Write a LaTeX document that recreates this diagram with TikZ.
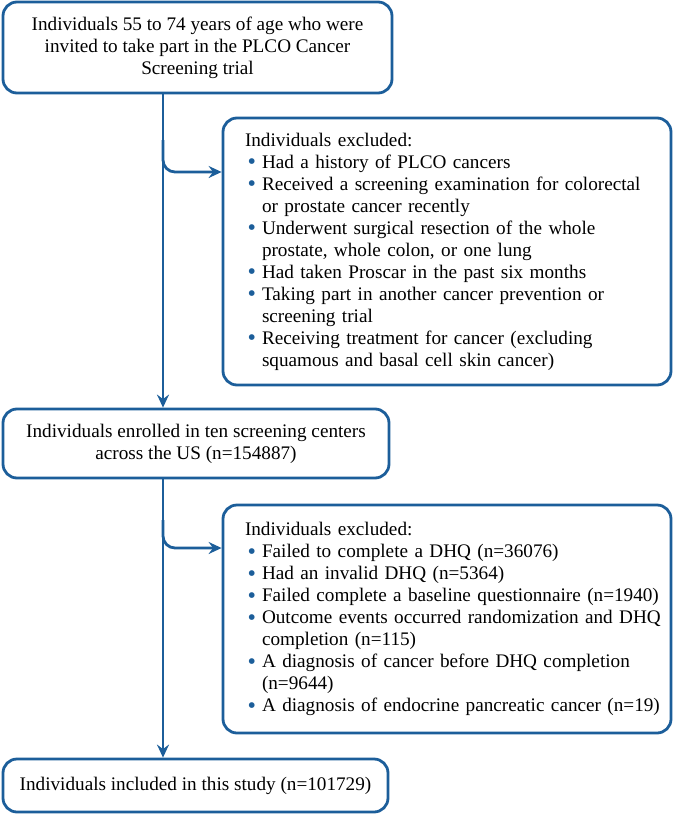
\documentclass[tikz,border=0pt]{standalone}
\usepackage{fontspec}
\setmainfont{Liberation Serif}
\usepackage{graphicx}
\usepackage{tikz}
\usetikzlibrary{arrows.meta,positioning}
\definecolor{flowblue}{RGB}{28,94,154}
\newcommand{\blt}[1]{\mbox{\makebox[17pt][l]{\hspace{2.5pt}\raisebox{-1.5pt}{\scalebox{1.25}{\textcolor{flowblue}{\textbullet}}}}#1}}
\newcommand{\cnt}[1]{\mbox{\hspace*{17pt}#1}}

\begin{document}
\begin{tikzpicture}[x=1pt,y=-1pt,
box/.style={draw=flowblue,line width=2.8pt,rounded corners=14pt,inner sep=0pt,
    font=\fontsize{19.2}{22}\selectfont},
cbox/.style={box,align=center},
lbox/.style={box,align=left,text width=404pt},
arr/.style={draw=flowblue,line width=2.8pt,-{Stealth[length=13pt,width=12pt,inset=4.5pt]}}]
\useasboundingbox (0,0) rectangle (675,814);

\node (invited) [cbox,minimum width=389pt,minimum height=91pt] at (197.5,47.5)
    {Individuals 55 to 74 years of age who were\\
     invited to take part in the PLCO Cancer\\
     Screening trial};

\node (exclone) [lbox,minimum width=448pt,minimum height=267pt] at (447,251.5)
    {Individuals excluded:\\
     \blt{Had a history of PLCO cancers}\\
     \blt{Received a screening examination for colorectal}\\
     \cnt{or prostate cancer recently}\\
     \blt{Underwent surgical resection of the whole}\\
     \cnt{prostate, whole colon, or one lung}\\
     \blt{Had taken Proscar in the past six months}\\
     \blt{Taking part in another cancer prevention or}\\
     \cnt{screening trial}\\
     \blt{Receiving treatment for cancer (excluding}\\
     \cnt{squamous and basal cell skin cancer)}};

\node (enrolled) [cbox,minimum width=386pt,minimum height=69pt] at (196,443.5)
    {Individuals enrolled in ten screening centers\\
     across the US (n=154887)};

\node (excltwo) [lbox,minimum width=448pt,minimum height=228pt] at (447,619)
    {Individuals excluded:\\
     \blt{Failed to complete a DHQ (n=36076)}\\
     \blt{Had an invalid DHQ (n=5364)}\\
     \blt{Failed complete a baseline questionnaire (n=1940)}\\
     \blt{Outcome events occurred randomization and DHQ}\\
     \cnt{completion (n=115)}\\
     \blt{A diagnosis of cancer before DHQ completion}\\
     \cnt{(n=9644)}\\
     \blt{A diagnosis of endocrine pancreatic cancer (n=19)}};

\node (included) [cbox,minimum width=385pt,minimum height=53pt] at (195.5,785.5)
    {Individuals included in this study (n=101729)};

% trunk and side branches
\coordinate (trunk) at (163,0);
\coordinate (splitone) at (163,140);
\coordinate (tipone) at (0,172);
\coordinate (splittwo) at (163,520);
\coordinate (tiptwo) at (0,548);

\draw[arr] (invited.south -| trunk) -- (enrolled.north -| trunk);
\draw[arr,rounded corners=12pt] (splitone) |- (exclone.west |- tipone);
\draw[arr] (enrolled.south -| trunk) -- (included.north -| trunk);
\draw[arr,rounded corners=12pt] (splittwo) |- (excltwo.west |- tiptwo);
\end{tikzpicture}
\end{document}
